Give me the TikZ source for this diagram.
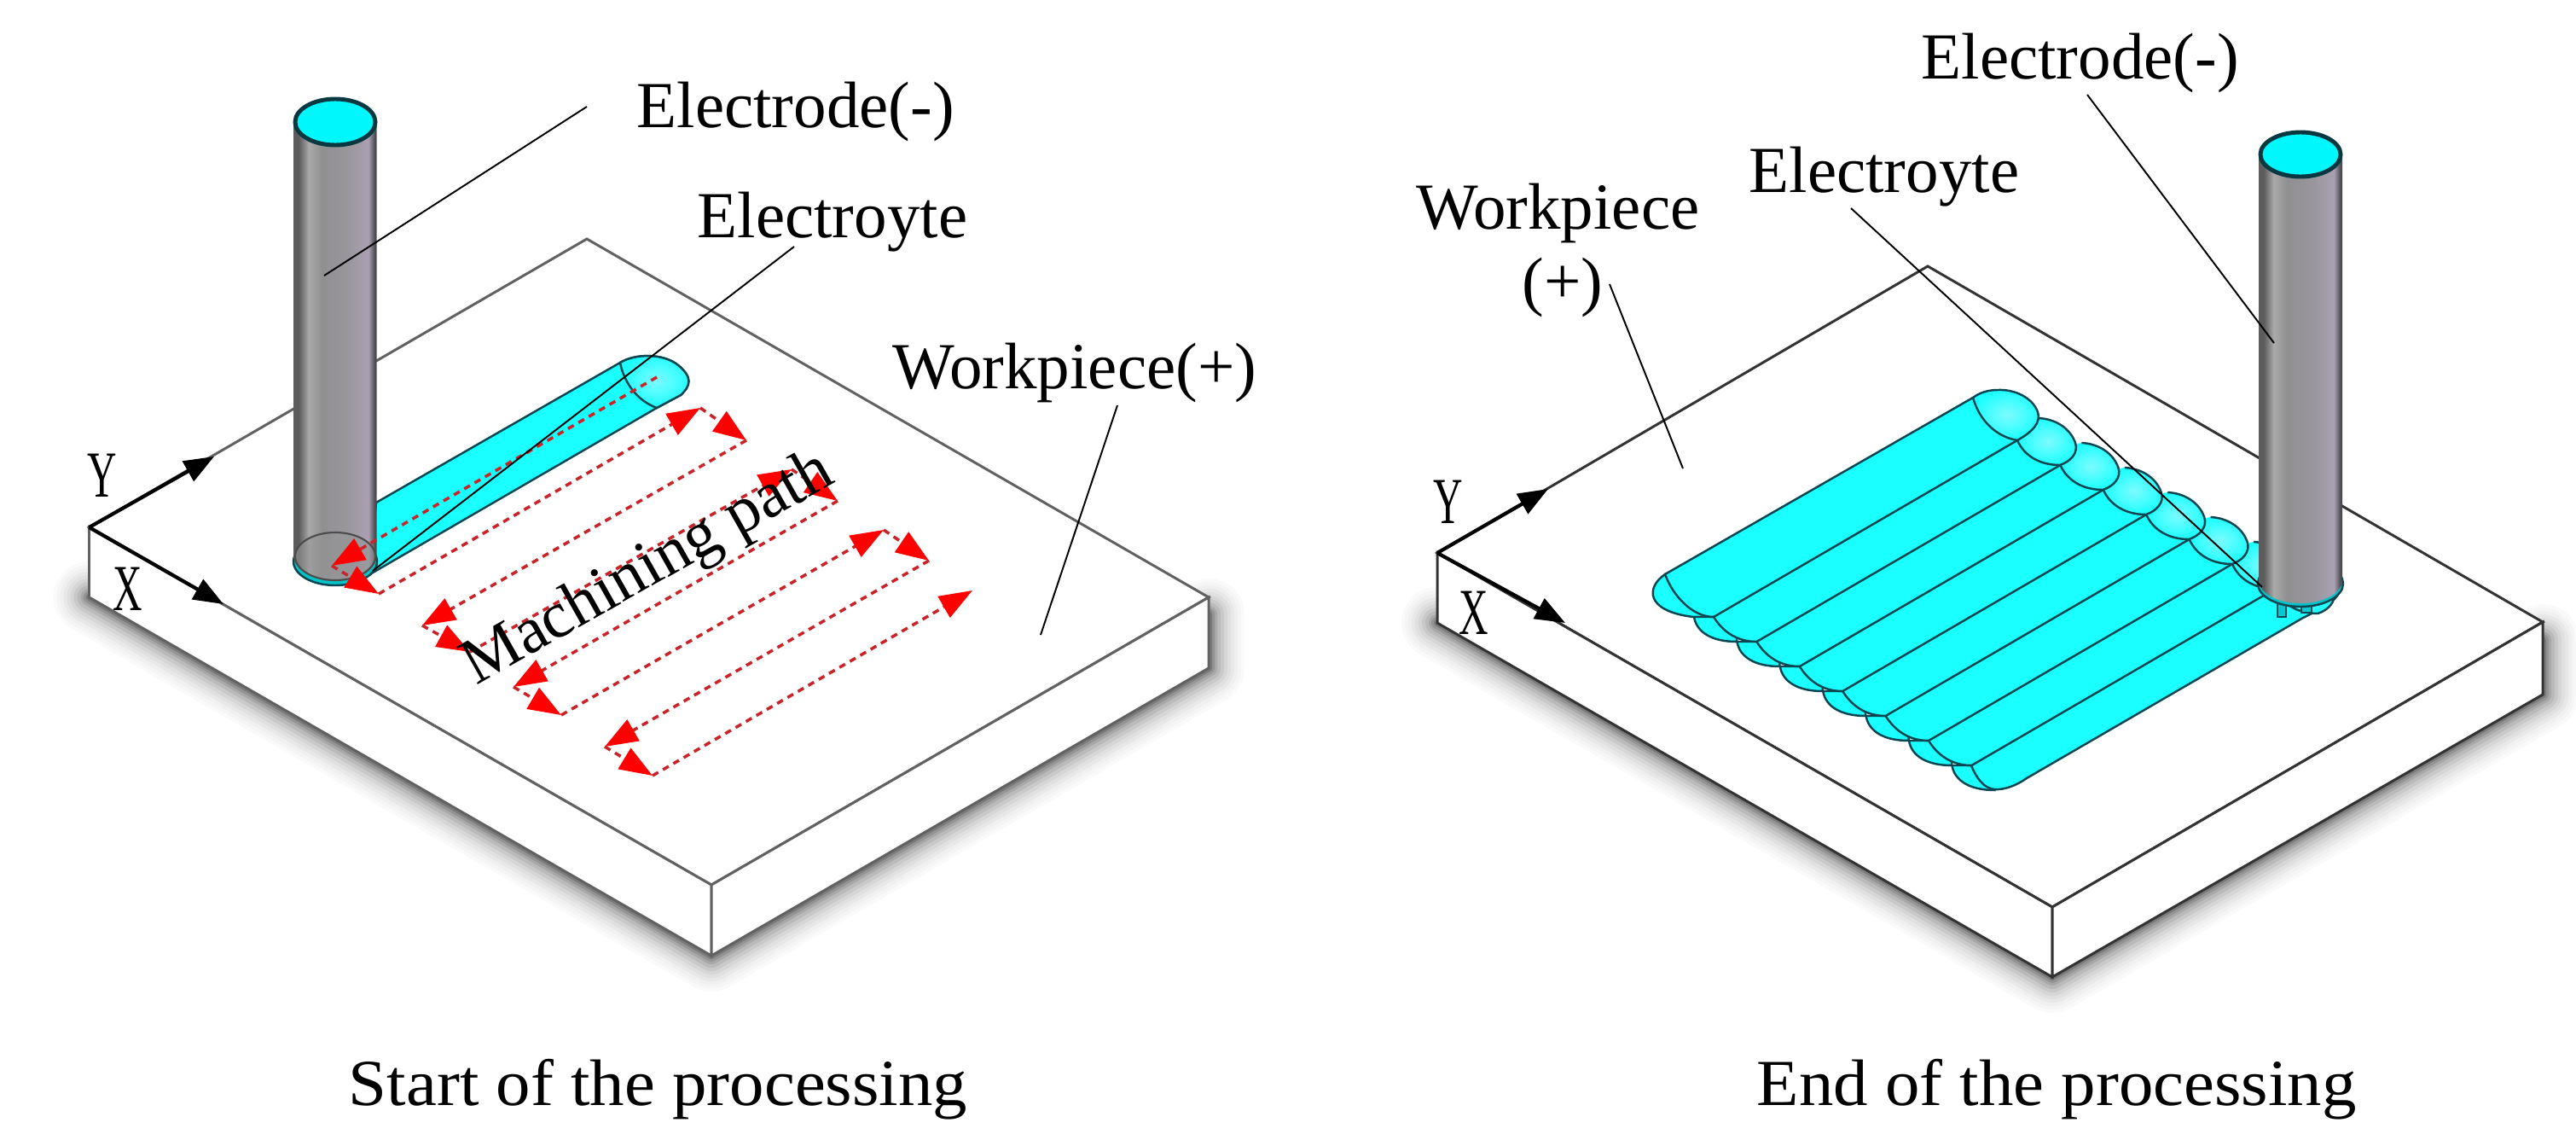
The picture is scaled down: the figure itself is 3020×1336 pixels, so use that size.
\documentclass[tikz,border=0pt]{standalone}
\usepackage{fontspec}
\setmainfont{Liberation Serif}
\usetikzlibrary{arrows.meta}
\definecolor{cy}{HTML}{1AFFFF}
\definecolor{cyt}{HTML}{00F8FC}
\definecolor{hd}{HTML}{7CFBFF}
\definecolor{tl}{HTML}{0C4650}
\definecolor{ea}{HTML}{5C5C5C}
\definecolor{eb}{HTML}{AAAAAA}
\definecolor{ec}{HTML}{8F8F90}
\definecolor{ed}{HTML}{9A969E}
\definecolor{ee}{HTML}{A9A1B2}
\definecolor{ef}{HTML}{4A4A50}
\definecolor{rdot}{HTML}{C8242A}
\pgfdeclarehorizontalshading{elec}{100bp}{color(0bp)=(ea);color(25bp)=(ea);color(28bp)=(ea);color(34bp)=(eb);color(42bp)=(ec);color(58bp)=(ed);color(70bp)=(ee);color(74bp)=(ef);color(75bp)=(ef);color(100bp)=(ef)}
\tikzset{
 lbl/.style={inner sep=0pt,font=\fontsize{21.9}{26}\selectfont,anchor=base west},
 axlbl/.style={inner sep=0pt,font=\fontsize{21.9}{26}\selectfont,xscale=.62,transform shape},
 ttl/.style={inner sep=0pt,font=\fontsize{21.9}{26}\selectfont,anchor=base west,xscale=1.05,transform shape},
 leader/.style={draw=black,line width=.55pt},
 slabL/.style={draw=black!62,line width=.85pt,line join=miter},
 slabR/.style={draw=black!80,line width=.85pt,line join=miter},
 axarrow/.style={draw=black,line width=1.2pt,-{Triangle[length=10pt,width=7.5pt]}},
 redp/.style={draw=rdot,line width=1pt,dash pattern=on 2.2pt off 1.8pt,-{Triangle[length=11pt,width=8pt,fill=red,color=red]}},
 elyt/.style={draw=tl,line width=.7pt},
 topcap/.style={draw=tl!80!black,line width=1.4pt,fill=cyt},
 cyl/.style={shading=elec,draw=none},
}
\newcommand{\shadowpath}[4]{%
 \foreach \w/\p in {84/2,76/4,68/6,60/9,52/12,44/16,36/21,28/27,20/34,14/42,8/52}{%
  \draw[line width=\w*.2845pt,line join=round,line cap=round,draw=black!\p!white] #1 -- #2 -- #3 -- #4;
 }%
}
\begin{document}
\begin{tikzpicture}[x=0.01cm,y=-0.01cm]
\path[use as bounding box,fill=white] (0,0) rectangle (3020,1336);
% ---------- LEFT ----------
\coordinate (LO) at (104.5,618);
\coordinate (LB) at (688,280);
\coordinate (LR) at (1417,700);
\coordinate (LF) at (834,1037);
\coordinate (LOd) at (104.5,700);
\coordinate (LRd) at (1417,783);
\coordinate (LFd) at (834,1120);
\shadowpath{(LOd)}{(LFd)}{(LRd)}{(1417,720)}
\path[slabL,fill=white] (LO) -- (LB) -- (LR) -- (LF) -- cycle;
\path[slabL,fill=white] (LO) -- (LOd) -- (LFd) -- (LF) -- cycle;
\path[slabL,fill=white] (LF) -- (LFd) -- (LRd) -- (LR) -- cycle;
% track
\path[elyt,fill=cy] (441,589) -- (727,425) .. controls (745,414) and (778,414) .. (795,428) .. controls (812,442) and (810,452) .. (798,463) -- (770,478) -- (432,674) -- cycle;
\shade[inner color=hd,outer color=cy] (727,425) .. controls (745,414) and (778,414) .. (795,428) .. controls (812,442) and (810,452) .. (798,463) -- (770,478) .. controls (748,470) and (732,450) .. (727,425) -- cycle;
\path[elyt] (727,425) .. controls (745,414) and (778,414) .. (795,428) .. controls (812,442) and (810,452) .. (798,463) -- (770,478) .. controls (748,470) and (732,450) .. (727,425);
% electrode left
\draw[elyt,fill=cyt!70!tl] (393,658) ellipse [x radius=49,y radius=28];
\shade[cyl] (344.5,142) -- (344.5,652) .. controls (344.5,667.5) and (366,680) .. (393,680) .. controls (420,680) and (441.5,667.5) .. (441.5,652) -- (441.5,142) -- cycle;
\draw[black!70,line width=.6pt,fill=black!42!white,fill opacity=.6] (393,652) ellipse [x radius=47,y radius=28];
\draw[topcap] (393,143) ellipse [x radius=47,y radius=27];
% axes
\draw[axarrow] (LO) -- (251,535);
\draw[axarrow] (LO) -- (262,708);
\node[axlbl] (lY) at (120,557) {Y};
\node[axlbl] (lX) at (150,690) {X};
% machining path
\coordinate (P0) at (770,442);
\coordinate (A1) at (389,663);
\coordinate (B1) at (444,696);
\coordinate (C1) at (821,478);
\coordinate (D1) at (875,516);
\coordinate (E1) at (495,733);
\coordinate (F1) at (551,764);
\coordinate (G1) at (928,550);
\coordinate (H1) at (982,587);
\coordinate (I1) at (602,805);
\coordinate (J1) at (658,838);
\coordinate (K1) at (1036,621);
\coordinate (L1) at (1089,657);
\coordinate (M1) at (709,875);
\coordinate (N1) at (765,909);
\coordinate (O1) at (1140,692);
\draw[redp] (P0) -- (A1);
\draw[redp] (A1) -- (B1);
\draw[redp] (B1) -- (C1);
\draw[redp] (C1) -- (D1);
\draw[redp] (D1) -- (E1);
\draw[redp] (E1) -- (F1);
\draw[redp] (F1) -- (G1);
\draw[redp] (G1) -- (H1);
\draw[redp] (H1) -- (I1);
\draw[redp] (I1) -- (J1);
\draw[redp] (J1) -- (K1);
\draw[redp] (K1) -- (L1);
\draw[redp] (L1) -- (M1);
\draw[redp] (M1) -- (N1);
\draw[redp] (N1) -- (O1);
\node[lbl,rotate=29.5,transform shape] (mp) at (558,804) {Machining path};
% left labels
\node[lbl] (lEd) at (746,149) {Electrode(-)};
\node[lbl] (lEy) at (817,278) {Electroyte};
\node[lbl] (lWp) at (1046,455) {Workpiece(+)};
\coordinate (a1) at (688,125);
\coordinate (a2) at (380,323);
\coordinate (b1) at (931,289);
\coordinate (b2) at (437,669);
\coordinate (c1) at (1310,475);
\coordinate (c2) at (1220,744);
\draw[leader] (a1) -- (a2);
\draw[leader] (b1) -- (b2);
\draw[leader] (c1) -- (c2);
\node[ttl] (tS) at (408,1295) {Start of the processing};
% ---------- RIGHT ----------
\coordinate (RO) at (1685,648);
\coordinate (RB) at (2260,312);
\coordinate (RR) at (2981,729);
\coordinate (RF) at (2406,1063);
\coordinate (ROd) at (1685,730);
\coordinate (RRd) at (2981,814);
\coordinate (RFd) at (2406,1145);
\shadowpath{(ROd)}{(RFd)}{(RRd)}{(2981,750)}
\path[slabR,fill=white] (RO) -- (RB) -- (RR) -- (RF) -- cycle;
\path[slabR,fill=white] (RO) -- (ROd) -- (RFd) -- (RF) -- cycle;
\path[slabR,fill=white] (RF) -- (RFd) -- (RRd) -- (RR) -- cycle;
% bumps at the front end
\path[elyt,fill=cy] (1952,673) .. controls (1930,688) and (1928,716) .. (1985,723) -- (2009,723) -- cycle;
\foreach \i in {1,...,7}{
 \pgfmathsetmacro\kx{2009+50.4*(\i-1)}
 \pgfmathsetmacro\ky{723+29*(\i-1)}
 \path[elyt,fill=cy] (\kx-23,\ky) .. controls (\kx-20,\ky+18) and (\kx-2,\ky+29) .. (\kx+27,\ky+29) -- (\kx+27,\ky) -- cycle;
}
% strips
\fill[cy] (1952,673) .. controls (1962,700) and (1985,723) .. (2009,723) -- (2365,516) -- (2313,466) -- cycle;
\foreach \i in {1,...,6}{
 \pgfmathsetmacro\kx{2009+50.4*(\i-1)}
 \pgfmathsetmacro\ky{723+29*(\i-1)}
 \fill[cy] (\kx,\ky) .. controls (\kx+10,\ky+16) and (\kx+26,\ky+29) .. (\kx+50.4,\ky+29) -- (\kx+406.4,\ky-178) -- (\kx+356,\ky-207) -- cycle;
}
\fill[cy] (2311,897) .. controls (2317,912) and (2326,924) .. (2338,925) .. controls (2350,926) and (2365,920) .. (2376,912) -- (2700,724) .. controls (2720,714) and (2738,706) .. (2742,694) -- (2742,680) -- (2667,690) -- cycle;
\draw[elyt] (2311,897) .. controls (2317,912) and (2326,924) .. (2338,925) .. controls (2350,926) and (2365,920) .. (2376,912) -- (2700,724) .. controls (2720,714) and (2738,706) .. (2742,694);
\draw[elyt] (1952,673) -- (2313,466);
\draw[elyt] (1952,673) .. controls (1962,700) and (1985,723) .. (2009,723);
\foreach \i in {1,...,7}{
 \pgfmathsetmacro\kx{2009+50.4*(\i-1)}
 \pgfmathsetmacro\ky{723+29*(\i-1)}
 \draw[elyt] (\kx,\ky) -- (\kx+356,\ky-207);
}
\foreach \i in {1,...,6}{
 \pgfmathsetmacro\kx{2009+50.4*(\i-1)}
 \pgfmathsetmacro\ky{723+29*(\i-1)}
 \draw[elyt] (\kx,\ky) .. controls (\kx+10,\ky+16) and (\kx+26,\ky+29) .. (\kx+50.4,\ky+29);
}
% heads at the far end
\foreach \i in {7,6,...,1}{
 \pgfmathsetmacro\hx{2365+50.4*(\i-1)}
 \pgfmathsetmacro\hy{516+29*(\i-1)}
 \shade[inner color=hd,outer color=cy] (\hx,\hy) .. controls (\hx+8,\hy+18) and (\hx+26,\hy+29) .. (\hx+50,\hy+29) .. controls (\hx+62,\hy+25) and (\hx+72,\hy+15) .. (\hx+68,\hy+3) .. controls (\hx+62,\hy-14) and (\hx+45,\hy-25) .. (\hx+25,\hy-26) .. controls (\hx+15,\hy-26) and (\hx+5,\hy-12) .. (\hx,\hy) -- cycle;
 \draw[elyt] (\hx,\hy) .. controls (\hx+8,\hy+18) and (\hx+26,\hy+29) .. (\hx+50,\hy+29) .. controls (\hx+62,\hy+25) and (\hx+72,\hy+15) .. (\hx+68,\hy+3) .. controls (\hx+62,\hy-14) and (\hx+45,\hy-25) .. (\hx+25,\hy-26);
}
\shade[inner color=hd,outer color=cy] (2313,466) .. controls (2321,494) and (2341,512) .. (2365,516) .. controls (2383,506) and (2393,495) .. (2389,483) .. controls (2383,466) and (2362,456) .. (2342,457) .. controls (2331,457) and (2321,460) .. (2313,466) -- cycle;
\draw[elyt] (2313,466) .. controls (2321,494) and (2341,512) .. (2365,516) .. controls (2383,506) and (2393,495) .. (2389,483) .. controls (2383,466) and (2362,456) .. (2342,457) .. controls (2331,457) and (2321,460) .. (2313,466) -- cycle;
% electrode right
\draw[elyt,fill=cyt!75!tl] (2670,700) rectangle (2680,723);
\draw[elyt,fill=cyt!75!tl] (2698,700) rectangle (2710,718);
\draw[elyt,fill=cyt!70!tl] (2697,684) ellipse [x radius=50,y radius=27];
\shade[cyl] (2648,180) -- (2648,680) .. controls (2648,695) and (2670,707) .. (2697,707) .. controls (2724,707) and (2746,695) .. (2746,680) -- (2746,180) -- cycle;
\draw[topcap] (2697,181) ellipse [x radius=47,y radius=26];
\draw[axarrow] (RO) -- (1815,573);
\draw[axarrow] (RO) -- (1835,730);
\node[axlbl] (rY) at (1698,588) {Y};
\node[axlbl] (rX) at (1728,718) {X};
\node[lbl] (rEd) at (2252,92) {Electrode(-)};
\node[lbl] (rEy) at (2050,225) {Electroyte};
\node[lbl] (rWp) at (1660,268) {Workpiece};
\node[inner sep=0pt,font=\fontsize{21.9}{26}\selectfont,anchor=base] (rPl) at (1832,355) {(+)};
\coordinate (d1) at (2447,111);
\coordinate (d2) at (2666,402);
\coordinate (e1) at (2170,244);
\coordinate (e2) at (2652,688);
\coordinate (f1) at (1887,333);
\coordinate (f2) at (1973,549);
\draw[leader] (d1) -- (d2);
\draw[leader] (e1) -- (e2);
\draw[leader] (f1) -- (f2);
\node[ttl] (tE) at (2059,1295) {End of the processing};
\end{tikzpicture}
\end{document}
